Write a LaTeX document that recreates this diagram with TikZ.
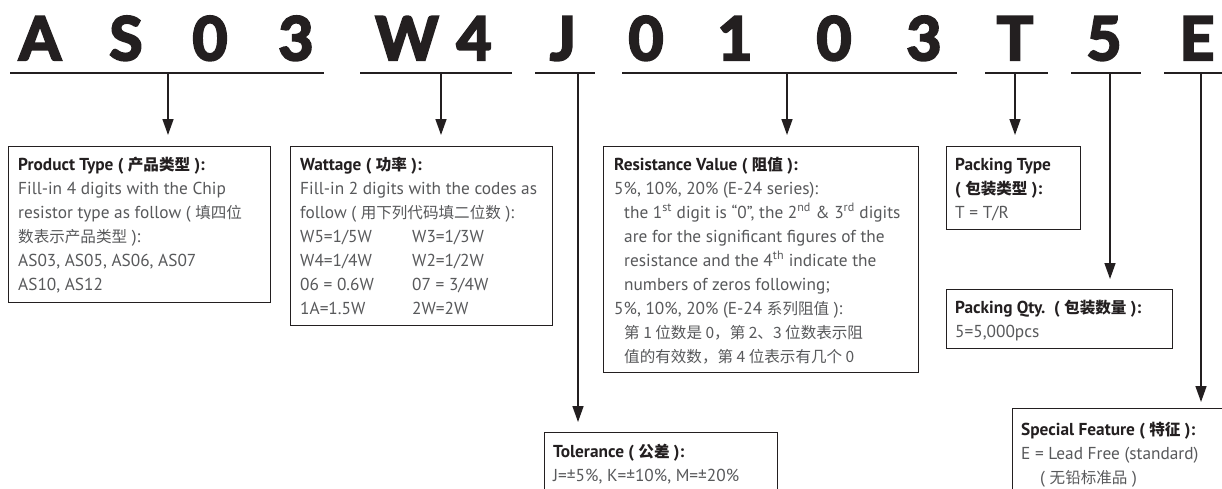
\documentclass[tikz,border=0pt]{standalone}
\usepackage{fontspec}
\setmainfont{PT Sans}
\newfontfamily\cjk{Noto Sans CJK SC}[Scale=0.9]
\newfontfamily\titlefont{Lato}[BoldFeatures={FakeBold=4}]
\usetikzlibrary{arrows.meta,calc}
\definecolor{ink}{HTML}{231F20}
\definecolor{bodygray}{HTML}{58595B}
\newcommand\zh[1]{{\cjk #1}}
\newcommand\hd[1]{{\bfseries\color{ink}#1}}
\newcommand\bodyfont{\fontsize{17.3}{24}\selectfont}
\begin{document}
\begin{tikzpicture}[x=1pt,y=-1pt,
  frame/.style={draw=ink, line width=1.2pt, inner sep=0pt, anchor=north west},
  txt/.style={anchor=base west, inner sep=0pt, text=bodygray, font=\bodyfont},
  letter/.style={anchor=base, inner sep=0pt, text=ink, font=\titlefont\bfseries\fontsize{60}{60}\selectfont},
  rule/.style={line width=1.5pt, draw=ink},
  arr/.style={rule, -{Triangle[width=11pt,length=16pt]}}]
\useasboundingbox[fill=white] (0,0) rectangle (1222,488);
\clip (0,0) rectangle (1222,488);

% code letters
\foreach \ch/\xx [count=\i] in {A/40,S/126,0/210,3/296,W/407,4/474,J/563,0/646,1/735,0/834,3/924,T/1015,5/1104,E/1197}
  \node[letter] (c\i) at (\xx,60) {\ch};

% underline ends and stems
\coordinate (u1a) at (10,73);   \coordinate (u1b) at (324,73);  \coordinate (s1) at (168,73);
\coordinate (u2a) at (360,73);  \coordinate (u2b) at (512,73);  \coordinate (s2) at (441,73);
\coordinate (u3a) at (535,73);  \coordinate (u3b) at (595,73);  \coordinate (s3) at (578,73);
\coordinate (u4a) at (622,73);  \coordinate (u4b) at (957,73);  \coordinate (s4) at (787,73);
\coordinate (u5a) at (985,73);  \coordinate (u5b) at (1048,73); \coordinate (s5) at (1015,73);
\coordinate (u6a) at (1071,73); \coordinate (u6b) at (1141,73); \coordinate (s6) at (1110,73);
\coordinate (u7a) at (1164,73); \coordinate (u7b) at (1224,73); \coordinate (s7) at (1201,73);
\foreach \k in {1,...,7} \draw[rule] (u\k a) -- (u\k b);

% boxes
\node[frame, minimum width=262pt, minimum height=156pt] (pt) at (8,146) {};
\node[frame, minimum width=262pt, minimum height=179pt] (wt) at (290,146) {};
\node[frame, minimum width=315pt, minimum height=226pt] (rv) at (603,146) {};
\node[frame, minimum width=233pt, minimum height=90pt] (tol) at (544,432) {};
\node[frame, minimum width=134pt, minimum height=83pt] (pk) at (946,146) {};
\node[frame, minimum width=226pt, minimum height=59pt] (pq) at (946,289) {};
\node[frame, minimum width=240pt, minimum height=110pt] (sf) at (1012,408) {};

% arrows
\draw[arr] (s1) -- ([yshift=11pt]pt.north -| s1);
\draw[arr] (s2) -- ([yshift=11pt]wt.north -| s2);
\draw[arr] (s3) -- ([yshift=10pt]tol.north -| s3);
\draw[arr] (s4) -- ([yshift=11pt]rv.north -| s4);
\draw[arr] (s5) -- ([yshift=11pt]pk.north -| s5);
\draw[arr] (s6) -- ([yshift=10pt]pq.north -| s6);
\draw[arr] (s7) -- ([yshift=6pt]sf.north -| s7);

% texts
\node[txt] (ptt) at (18,170) {\parbox[t]{255pt}{\bodyfont\leavevmode
  \hd{Product Type ( \zh{产品类型} ):}\\
  Fill-in 4 digits with the Chip\\
  resistor type as follow ( \zh{填四位}\\
  \zh{数表示产品类型} ):\\
  AS03, AS05, AS06, AS07\\
  AS10, AS12}};

\node[txt] (wtt) at (300,170) {\parbox[t]{255pt}{\bodyfont\leavevmode
  \hd{Wattage ( \zh{功率} ):}\\
  Fill-in 2 digits with the codes as\\
  follow ( \zh{用下列代码填二位数} ):\\
  \makebox[112pt][l]{W5=1/5W}W3=1/3W\\
  \makebox[112pt][l]{W4=1/4W}W2=1/2W\\
  \makebox[112pt][l]{06 = 0.6W}07 = 3/4W\\
  \makebox[112pt][l]{1A=1.5W}2W=2W}};

\node[txt] (rvt) at (614,170) {\parbox[t]{310pt}{\bodyfont\leavevmode
  \hd{Resistance Value ( \zh{阻值} ):}\\
  5\%, 10\%, 20\% (E-24 series):\\
  \hspace*{10pt}the 1\textsuperscript{st} digit is “0”, the 2\textsuperscript{nd} \& 3\textsuperscript{rd} digits\\
  \hspace*{10pt}are for the significant figures of the\\
  \hspace*{10pt}resistance and the 4\textsuperscript{th} indicate the\\
  \hspace*{10pt}numbers of zeros following;\\
  5\%, 10\%, 20\% (E-24 \zh{系列阻值} ):\\
  \hspace*{10pt}\zh{第 1 位数是 0，第 2、3 位数表示阻}\\
  \hspace*{10pt}\zh{值的有效数，第 4 位表示有几个 0}}};

\node[txt] (pkt) at (955,170) {\parbox[t]{130pt}{\bodyfont\leavevmode
  \hd{Packing Type}\\
  \hd{( \zh{包装类型} ):}\\
  T = T/R}};

\node[txt] (pqt) at (955,313) {\parbox[t]{220pt}{\bodyfont\leavevmode
  \hd{Packing Qty.\ \ ( \zh{包装数量} ):}\\
  5=5,000pcs}};

\node[txt] (tolt) at (553,457) {\parbox[t]{225pt}{\bodyfont\leavevmode
  \hd{Tolerance ( \zh{公差} ):}\\
  J=±5\%, K=±10\%, M=±20\%}};

\node[txt] (sft) at (1021,435) {\parbox[t]{200pt}{\bodyfont\leavevmode
  \hd{Special Feature ( \zh{特征} ):}\\
  E = Lead Free (standard)\\
  \hspace*{19pt}( \zh{无铅标准品} )}};
\end{tikzpicture}
\end{document}
